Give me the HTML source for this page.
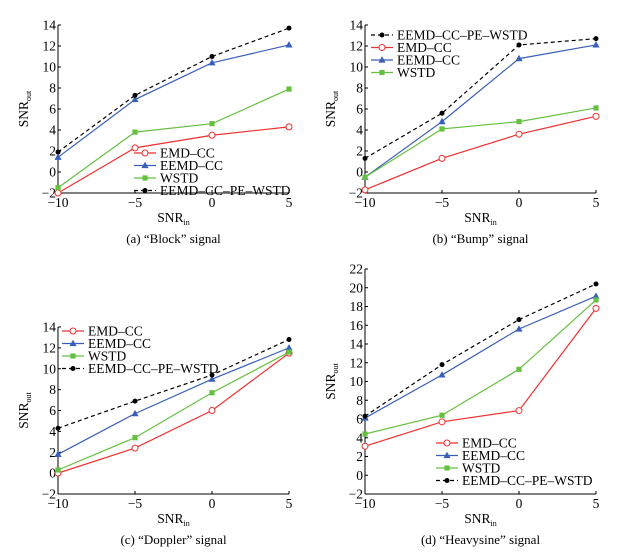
<!DOCTYPE html>
<html><head><meta charset="utf-8"><style>
body{margin:0;background:#fff}
svg{display:block;font-family:"Liberation Serif",serif}
</style></head><body>
<svg id="s" width="626" height="556"></svg>
<script>
const xCats=[-10,-5,0,5];
const seriesNames=["EMD–CC","EEMD–CC","WSTD","EEMD–CC–PE–WSTD"];
const aEMD=[-2,2.3,3.5,4.3], aEEMD=[1.4,6.9,10.4,12.1], aWSTD=[-1.5,3.8,4.6,7.9], aPE=[1.9,7.3,11,13.7];
const bEMD=[-1.7,1.3,3.6,5.3], bEEMD=[-0.5,4.8,10.8,12.1], bWSTD=[-0.5,4.1,4.8,6.1], bPE=[1.3,5.6,12.1,12.7];
const cEMD=[0,2.4,6,11.5], cEEMD=[1.8,5.7,9,12], cWSTD=[0.3,3.4,7.7,11.6], cPE=[4.3,6.9,9.4,12.8];
const dEMD=[3.1,5.7,6.9,17.8], dEEMD=[6.1,10.7,15.6,19.1], dWSTD=[4.4,6.4,11.3,18.7], dPE=[6.3,11.8,16.6,20.4];
const ticks14=[-2,0,2,4,6,8,10,12,14];
const ticks22=[-2,0,2,4,6,8,10,12,14,16,18,20,22];
const captions=["(a) “Block” signal","(b) “Bump” signal","(c) “Doppler” signal","(d) “Heavysine” signal"];

const NS="http://www.w3.org/2000/svg", svg=document.getElementById('s');
function mk(t,a,p){const e=document.createElementNS(NS,t);for(const k in a)e.setAttribute(k,a[k]);(p||svg).appendChild(e);return e;}
const colors=["#f03030","#3a5fb8","#66c040","#000"];
function marker(g,i,x,y){
  if(i===0) return mk('circle',{cx:x,cy:y,r:3,fill:'#fff',stroke:colors[0],'stroke-width':1},g);
  if(i===1) return mk('polygon',{points:`${x},${y-3.8} ${x-3.6},${y+2.6} ${x+3.6},${y+2.6}`,fill:colors[1]},g);
  if(i===2) return mk('rect',{x:x-2.6,y:y-2.6,width:5.2,height:5.2,fill:colors[2]},g);
  return mk('circle',{cx:x,cy:y,r:2.5,fill:'#000'},g);
}
function panel(id,x0,x1,yTop,yBot,ticks,data,leg,legOrder,cap){
  const g=mk('g',{});
  
  
  const ymin=ticks[0],ymax=ticks[ticks.length-1];
  const X=v=>x0+(v-xCats[0])/(xCats[3]-xCats[0])*(x1-x0);
  const Y=v=>yBot-(v-ymin)/(ymax-ymin)*(yBot-yTop);
  mk('line',{x1:x0,y1:yTop,x2:x0,y2:yBot,stroke:'#000','stroke-width':1},g);
  mk('line',{x1:x0,y1:yBot,x2:x1,y2:yBot,stroke:'#000','stroke-width':1},g);
  ticks.forEach(t=>{mk('line',{x1:x0,y1:Y(t),x2:x0+3,y2:Y(t),stroke:'#000'},g);
    const tx=mk('text',{x:x0-2,y:Y(t)+4.5,'text-anchor':'end','font-size':13.5},g);tx.textContent=t<0?'−'+(-t):t;});
  xCats.forEach(t=>{mk('line',{x1:X(t),y1:yBot,x2:X(t),y2:yBot-3,stroke:'#000'},g);
    const tx=mk('text',{x:X(t),y:yBot+14,'text-anchor':'middle','font-size':13.5},g);tx.textContent=t<0?'−'+(-t):t;});
  const xl=mk('text',{x:(x0+x1)/2,y:yBot+29,'text-anchor':'middle','font-size':13.5},g);
  xl.innerHTML='SNR<tspan font-size="8" dy="3">in</tspan>';
  const yc=(yTop+yBot)/2;
  const yl=mk('text',{x:x0-30,y:yc,'text-anchor':'middle','font-size':13.5,transform:`rotate(-90 ${x0-30} ${yc})`},g);
  yl.innerHTML='SNR<tspan font-size="8" dy="3">out</tspan>';
  data.forEach((arr,i)=>{
    const p=mk('polyline',{points:arr.map((v,j)=>X(xCats[j])+','+Y(v)).join(' '),fill:'none',stroke:colors[i],'stroke-width':1.2,'stroke-dasharray':i===3?'4,3':'none'},g);
    
    
    arr.forEach((v,j)=>marker(g,i,X(xCats[j]),Y(v)));
  });
  const lg=mk('g',{},g);
  
  
  legOrder.forEach((i,k)=>{const ly=leg[1]+k*12.5;
    mk('line',{x1:leg[0],y1:ly,x2:leg[0]+22,y2:ly,stroke:colors[i],'stroke-width':1.2,'stroke-dasharray':i===3?'4,3':'none'},lg);
    marker(lg,i,leg[0]+11,ly);
    const t=mk('text',{x:leg[0]+26,y:ly+4.5,'font-size':13.5},lg);t.textContent=seriesNames[i];});
  const c=mk('text',{x:(x0+x1)/2,y:yBot+50,'text-anchor':'middle','font-size':13},g);c.textContent=cap;
}
panel('panel-a-block',58,289,25,193,ticks14,[aEMD,aEEMD,aWSTD,aPE],[134,153],[0,1,2,3],captions[0]);
panel('panel-b-bump',365,596,25,193,ticks14,[bEMD,bEEMD,bWSTD,bPE],[371,35],[3,0,1,2],captions[1]);
panel('panel-c-doppler',58,289,327,494,ticks14,[cEMD,cEEMD,cWSTD,cPE],[62,331],[0,1,2,3],captions[2]);
panel('panel-d-heavysine',365,596,269,494,ticks22,[dEMD,dEEMD,dWSTD,dPE],[436,443],[0,1,2,3],captions[3]);
</script>
</body></html>
